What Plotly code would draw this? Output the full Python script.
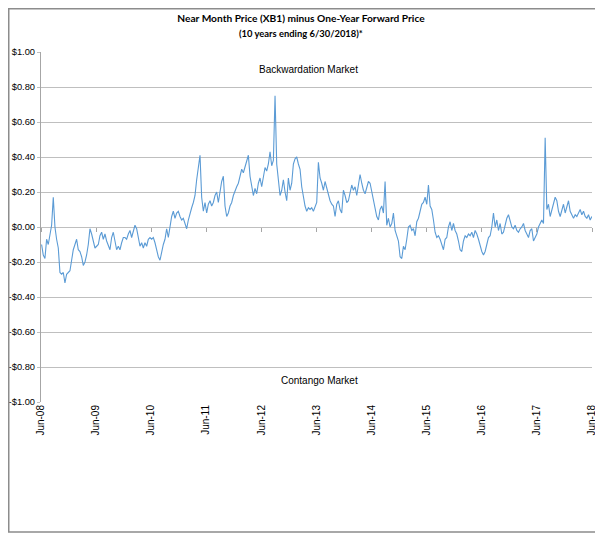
import pandas as pd
import plotly.graph_objects as go

# XB1 near month minus one-year forward ($/gal)
# roughly every 11 days, Jul-2008 .. Jun-2018, split in four pieces
spread_2008_2010 = [
    -0.10, -0.16, -0.18, -0.07, -0.10, -0.04, 0.01, 0.17, 0.00, -0.07,
    -0.12, -0.26, -0.27, -0.26, -0.32, -0.27, -0.26, -0.25, -0.19, -0.13,
    -0.10, -0.07, -0.13, -0.14, -0.17, -0.22, -0.20, -0.16, -0.10, -0.01,
    -0.04, -0.09, -0.12, -0.11, -0.10, -0.05, -0.03, -0.07, -0.04, -0.08,
    -0.11, -0.13, -0.06, -0.03, -0.08, -0.13, -0.11, -0.13, -0.09, -0.06,
    -0.06, -0.07, -0.04, -0.02, -0.06, -0.03, 0.01, -0.01, -0.06, -0.11,
    -0.09, -0.12, -0.09, -0.11, -0.07, -0.06, -0.07, -0.06, -0.09, -0.13,
    -0.17, -0.19, -0.14, -0.10, -0.07, -0.01, -0.06, 0.00, 0.06, 0.09,
    0.05,
]
spread_2010_2013 = [
    0.08, 0.09, 0.06, 0.04, 0.05, 0.02, -0.01, 0.04, 0.08, 0.11,
    0.14, 0.18, 0.27, 0.34, 0.41, 0.17, 0.09, 0.14, 0.08, 0.13,
    0.15, 0.12, 0.14, 0.18, 0.20, 0.14, 0.21, 0.26, 0.29, 0.12,
    0.06, 0.08, 0.12, 0.14, 0.18, 0.21, 0.23, 0.25, 0.29, 0.33,
    0.31, 0.34, 0.38, 0.41, 0.29, 0.23, 0.18, 0.22, 0.19, 0.25,
    0.28, 0.23, 0.29, 0.34, 0.32, 0.36, 0.43, 0.35, 0.38, 0.75,
    0.36, 0.27, 0.18, 0.21, 0.27, 0.20, 0.15, 0.28, 0.21, 0.25,
    0.36, 0.39, 0.40, 0.36, 0.33, 0.23, 0.17, 0.12, 0.09, 0.11,
    0.10,
]
spread_2013_2015 = [
    0.11, 0.09, 0.12, 0.14, 0.37, 0.28, 0.25, 0.21, 0.26, 0.22,
    0.18, 0.15, 0.13, 0.12, 0.06, 0.13, 0.15, 0.10, 0.08, 0.21,
    0.18, 0.14, 0.15, 0.19, 0.24, 0.21, 0.23, 0.18, 0.24, 0.30,
    0.25, 0.21, 0.19, 0.23, 0.26, 0.25, 0.20, 0.15, 0.12, 0.06,
    0.04, 0.10, 0.12, 0.08, 0.26, 0.01, 0.05, 0.00, 0.02, 0.08,
    -0.02, -0.05, -0.08, -0.17, -0.18, -0.11, -0.13, -0.07, 0.00, 0.01,
    -0.02, -0.01, -0.05, 0.03, 0.05, 0.09, 0.13, 0.14, 0.17, 0.13,
    0.24, 0.12, 0.10, 0.04, -0.03, -0.06, -0.05, -0.07, -0.10, -0.13,
    -0.07,
]
spread_2015_2018 = [
    -0.06, 0.00, 0.03, -0.02, 0.02, -0.02, -0.04, -0.08, -0.13, -0.14,
    -0.08, -0.05, -0.06, -0.04, -0.05, -0.03, -0.06, -0.02, -0.04, -0.07,
    -0.11, -0.14, -0.16, -0.14, -0.10, -0.06, -0.05, 0.00, 0.08, 0.00,
    0.04, -0.02, 0.02, -0.04, -0.03, 0.02, 0.05, 0.07, 0.04, 0.00,
    -0.01, 0.01, -0.02, -0.03, -0.01, 0.00, 0.02, -0.02, -0.04, -0.06,
    -0.02, -0.01, -0.08, -0.06, -0.04, 0.00, 0.02, 0.04, 0.02, 0.51,
    0.10, 0.13, 0.06, 0.10, 0.14, 0.17, 0.15, 0.09, 0.06, 0.09,
    0.13, 0.08, 0.11, 0.15, 0.09, 0.07, 0.05, 0.07, 0.06, 0.08,
    0.10, 0.07, 0.09, 0.06, 0.05, 0.07, 0.04, 0.06,
]

spread = spread_2008_2010 + spread_2010_2013 + spread_2013_2015 + spread_2015_2018
dates = pd.date_range("2008-07-04", "2018-06-29", periods=len(spread))

y_ticks = [1.0, 0.8, 0.6, 0.4, 0.2, 0.0, -0.2, -0.4, -0.6, -0.8, -1.0]
y_labels = [("-" if v < 0 else "") + "${:.2f}".format(abs(v)) for v in y_ticks]

TEXT_FONT = "Liberation Sans, Arial, sans-serif"
TITLE_FONT = "Lato, sans-serif"
GRID = "#BFBFBF"

# the page body adds an 8px margin, so the figure is 8px smaller each way
W, H = 595, 526
L, R, T, B = 33, 11, 44, 132
PW, PH = W - L - R, H - T - B

fig = go.Figure()
fig.add_trace(go.Scatter(
    x=dates, y=spread, mode="lines",
    line=dict(color="#5B9BD5", width=1.1),
    hoverinfo="x+y", showlegend=False,
))
# dummy trace so the tick-mark axis on the zero line gets drawn
fig.add_trace(go.Scatter(x=[dates[0]], y=[0], xaxis="x2", mode="markers",
                         marker=dict(opacity=0), hoverinfo="skip", showlegend=False))

x_range = ["2008-06-30", "2018-06-30"]

fig.update_layout(
    width=W, height=H,
    margin=dict(l=L, r=R, t=T, b=B, autoexpand=False),
    paper_bgcolor="white", plot_bgcolor="white",
    title=dict(
        text="<b>Near Month Price (XB1) minus One-Year Forward Price</b>",
        x=293 / W, xref="container", xanchor="center",
        y=1 - 10 / H, yref="container", yanchor="middle",
        font=dict(family=TITLE_FONT, size=10.2, color="#000000"),
    ),
    xaxis=dict(
        type="date", range=x_range, automargin=False,
        tick0="2008-06-30", dtick="M12", tickformat="%b-%y",
        tickangle=-90, ticks="", showgrid=False, showline=False, zeroline=False,
        tickfont=dict(family=TEXT_FONT, size=10, color="#000000"),
    ),
    xaxis2=dict(
        type="date", range=x_range, overlaying="x", anchor="free", position=0.5,
        automargin=False,
        tick0="2008-06-30", dtick="M12", ticks="outside", ticklen=4,
        tickcolor="#A6A6A6", tickwidth=1, showticklabels=False,
        showgrid=False, showline=False, zeroline=False,
    ),
    yaxis=dict(
        range=[-1.0, 1.0], tickvals=y_ticks, ticktext=y_labels, automargin=False,
        showgrid=True, gridcolor=GRID, gridwidth=1.3, zeroline=False,
        showline=True, linecolor="#A6A6A6", linewidth=1.3,
        ticks="outside", ticklen=3, tickcolor=GRID,
        tickfont=dict(family=TEXT_FONT, size=9.3, color="#000000"),
    ),
    annotations=[
        dict(text="<b>(10 years ending 6/30/2018)*</b>", xref="paper", yref="paper",
             x=(293 - L) / PW, y=(H - B - 25) / PH, yanchor="middle",
             showarrow=False, font=dict(family=TITLE_FONT, size=9.4, color="#000000")),
        dict(text="Backwardation Market", xref="paper", x=(300 - L) / PW, y=0.9,
             showarrow=False, font=dict(family=TEXT_FONT, size=10, color="#000000")),
        dict(text="Contango Market", xref="paper", x=(311 - L) / PW, y=-0.875,
             showarrow=False, font=dict(family=TEXT_FONT, size=10, color="#000000")),
    ],
    shapes=[
        dict(type="rect", xref="paper", yref="paper",
             x0=(0.75 - L) / PW, x1=(593 - L) / PW,
             y0=(H - B - 524) / PH, y1=(H - B - 0.75) / PH,
             line=dict(color="#8C8C8C", width=1.5), fillcolor="rgba(0,0,0,0)"),
    ],
)

fig.write_html("out.html")
